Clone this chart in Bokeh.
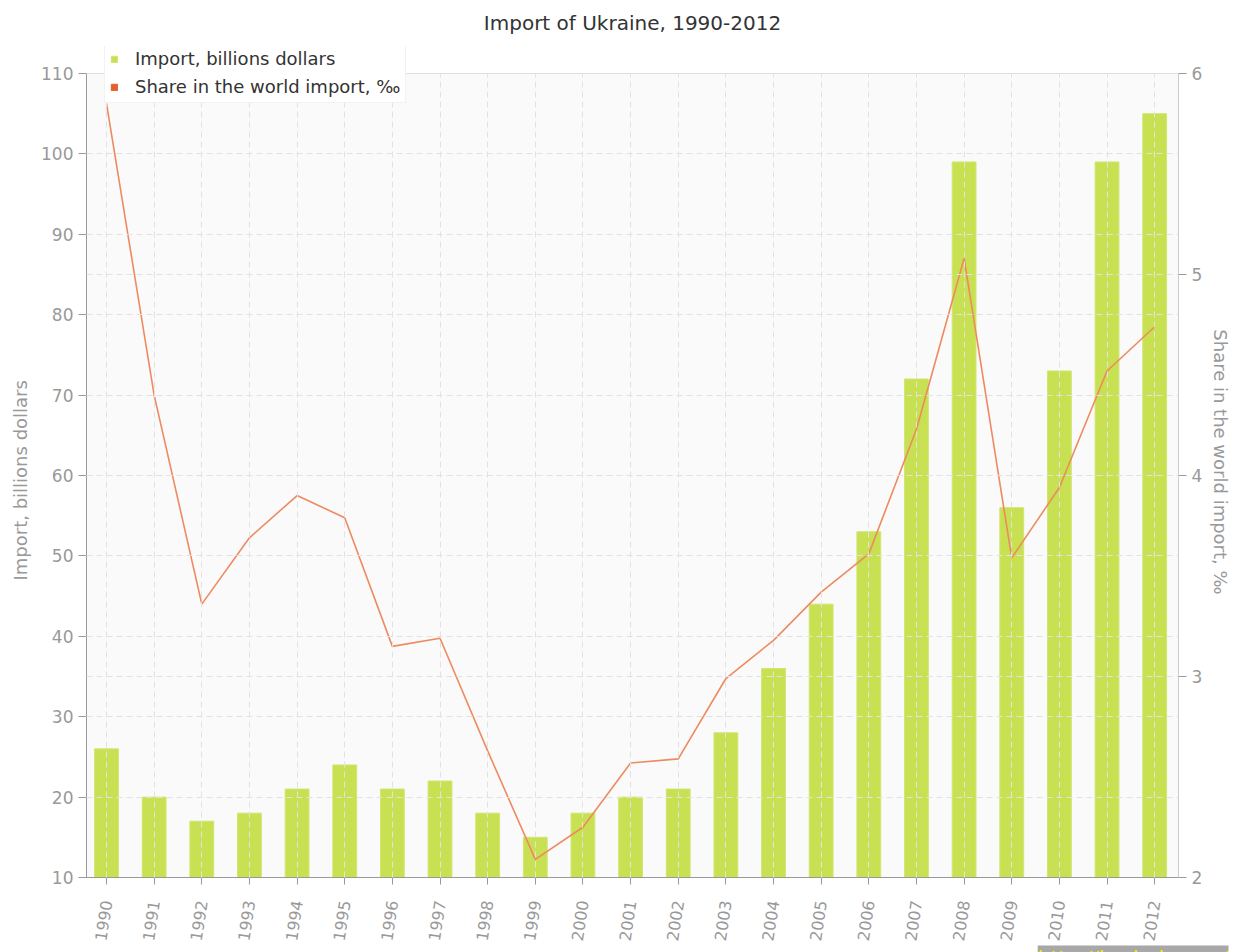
from bokeh.plotting import figure
from bokeh.models import (Range1d, LinearAxis, FixedTicker, Legend, LegendItem,
                          Grid, BoxAnnotation, Span, Title)
from bokeh.embed import file_html
from bokeh.resources import INLINE

years = list(range(1990, 2013))
import_bn = [26, 20, 17, 18, 21, 24, 21, 22, 18, 15, 18, 20, 21, 28, 36, 44, 53, 72, 99, 56, 73, 99, 105]
share = [5.85, 4.40, 3.36, 3.69, 3.90, 3.79, 3.15, 3.19, 2.63, 2.09, 2.25, 2.57, 2.59, 2.99,
         3.18, 3.42, 3.61, 4.23, 5.08, 3.59, 3.94, 4.52, 4.74]
left_ticks = list(range(10, 111, 10))
right_ticks = [2, 3, 4, 5, 6]

FONT = "DejaVu Sans"
GRAY = "#999999"

# frame extends a little above the axis maximum so the legend can sit there
L0, L1 = 10, 110
R0, R1 = 2, 6
EXTRA = 27 / 8.04
p = figure(frame_width=1092, frame_height=831,
           min_border_left=86, min_border_right=54, min_border_top=46, min_border_bottom=20,
           x_range=Range1d(1989.58, 2012.5), y_range=Range1d(L0, L1 + EXTRA),
           output_backend="svg", toolbar_location=None,
           title="Import of Ukraine, 1990-2012")
p.extra_y_ranges = {"share": Range1d(R0, R1 + EXTRA * (R1 - R0) / (L1 - L0))}

p.title.align = "center"
p.title.vertical_align = "top"
p.title.text_font = FONT
p.title.text_font_size = "20px"
p.title.text_font_style = "normal"
p.title.text_color = "#333333"
p.title.standoff = 20

p.background_fill_color = "white"
p.border_fill_color = "white"
p.outline_line_color = None
p.add_layout(BoxAnnotation(bottom=L0, top=L1, fill_color="#fafafa", fill_alpha=1,
                           line_color=None, level="image"))
p.add_layout(Span(location=L1, dimension="width", line_color="#e0e0e0", line_width=1))

# bars
bars = p.vbar(x=years, top=import_bn, bottom=0, width=0.5,
              fill_color="#c8e152", line_color="#d0e670", line_width=1)
# line
p.line(years, share, y_range_name="share", line_color="#ee8a60", line_width=1.6)
# legend-only swatch for the line series (hidden renderer)
swatch = p.vbar(x=years[:1], top=share[:1], bottom=0, width=0.5, y_range_name="share",
                fill_color="#e0602e", line_color="#e0602e", visible=False)

def style_axis(ax, size="17px"):
    ax.major_label_text_font = FONT
    ax.major_label_text_font_size = size
    ax.major_label_text_color = GRAY
    ax.axis_label_text_font = FONT
    ax.axis_label_text_font_size = "18px"
    ax.axis_label_text_font_style = "normal"
    ax.axis_label_text_color = GRAY
    ax.major_tick_line_color = GRAY
    ax.major_tick_in = 0
    ax.major_tick_out = 8
    ax.minor_tick_line_color = None

ya = p.yaxis[0]
ya.ticker = FixedTicker(ticks=left_ticks)
ya.bounds = (L0, L1)
style_axis(ya)
ya.axis_line_color = GRAY

ylab = Title(text="Import, billions dollars", align="left", offset=297,
             text_font=FONT, text_font_size="18px", text_font_style="normal",
             text_color=GRAY, standoff=15)
p.add_layout(ylab, "left")

ra = LinearAxis(y_range_name="share", ticker=FixedTicker(ticks=right_ticks),
                axis_label="Share in the world import, ‰", bounds=(R0, R1))
style_axis(ra)
ra.axis_line_color = "#cccccc"
p.add_layout(ra, "right")

xa = p.xaxis[0]
xa.ticker = FixedTicker(ticks=years)
style_axis(xa, "16px")
xa.major_tick_out = 7
xa.major_label_standoff = 16
xa.axis_line_color = GRAY
xa.major_label_orientation = 1.42

# grids
for g in (p.xgrid[0], p.ygrid[0]):
    g.grid_line_color = "#e2e2e2"
    g.grid_line_dash = "6 4"
    g.level = "overlay"
p.xgrid[0].ticker = FixedTicker(ticks=years)
p.xgrid[0].cross_bounds = (L0, L1)
p.ygrid[0].ticker = FixedTicker(ticks=left_ticks[:-1])
rg = Grid(dimension=1, ticker=FixedTicker(ticks=[3, 4, 5]), y_range_name="share",
          grid_line_color="#e2e2e2", grid_line_dash="6 4", level="overlay")
p.add_layout(rg)

legend = Legend(items=[LegendItem(label="Import, billions dollars", renderers=[bars]),
                       LegendItem(label="Share in the world import, ‰", renderers=[swatch])],
                location=(18, 774))
legend.label_text_font = FONT
legend.label_text_font_size = "18px"
legend.label_text_color = "#333333"
legend.glyph_width = 8
legend.glyph_height = 8
legend.label_height = 19
legend.label_standoff = 17
legend.spacing = 7
legend.padding = 5
legend.margin = 0
legend.border_line_color = "#e6e6e6"
legend.background_fill_color = "white"
legend.background_fill_alpha = 1
legend.inactive_fill_alpha = 0
p.add_layout(legend)

# site watermark, below the year labels at the bottom right
wm = Title(text="http://kushnirs.org/", align="right", offset=-50, vertical_align="top",
           text_font=FONT, text_font_size="20px", text_font_style="normal",
           text_color="#f0f000", background_fill_color="#a8a8a8", standoff=0)
p.add_layout(wm, "below")

open("out.html", "w").write(file_html(p, INLINE))
